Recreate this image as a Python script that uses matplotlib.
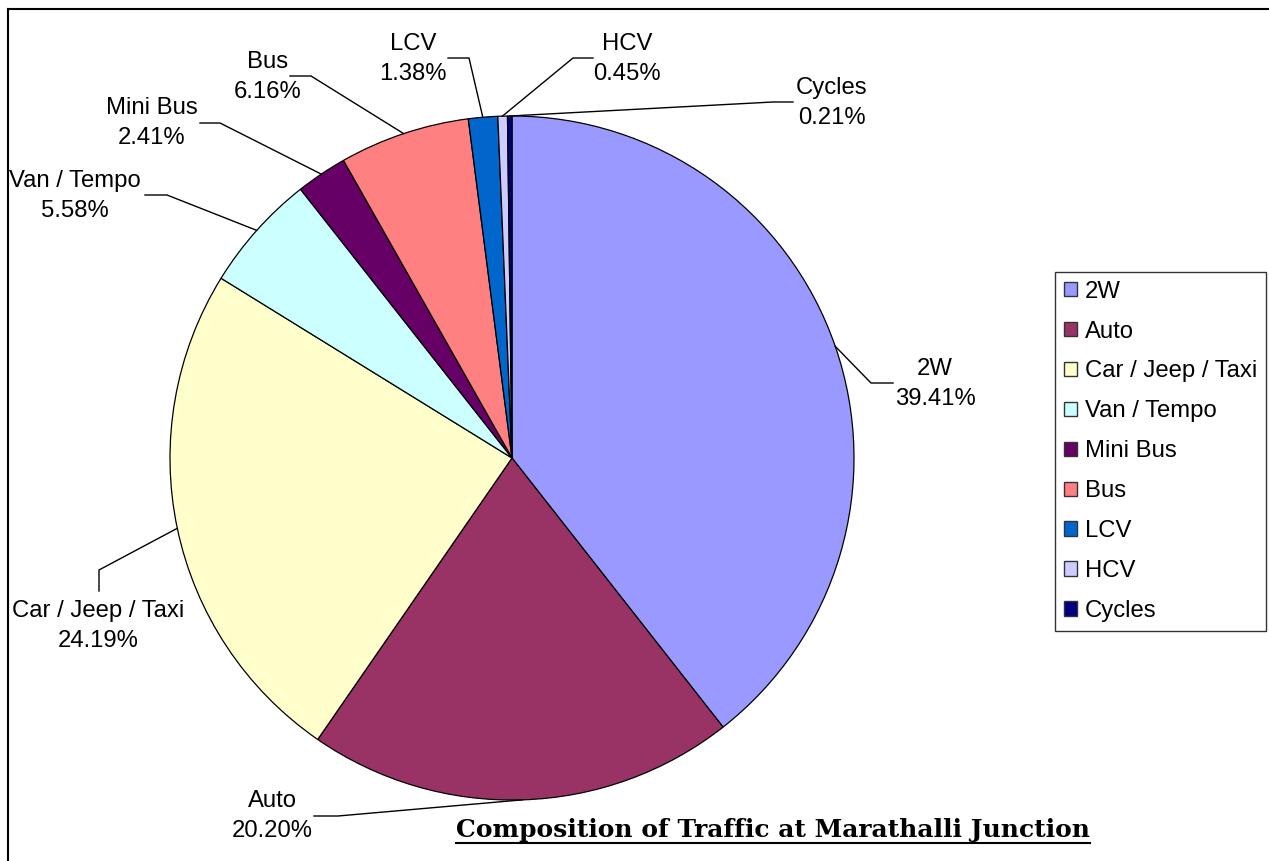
import numpy as np
import matplotlib
matplotlib.use("Agg")
import matplotlib.pyplot as plt
from matplotlib.patches import Patch
from matplotlib.lines import Line2D

# data
categories = ["2W", "Auto", "Car / Jeep / Taxi", "Van / Tempo", "Mini Bus",
              "Bus", "LCV", "HCV", "Cycles"]
shares = [39.41, 20.20, 24.19, 5.58, 2.41, 6.16, 1.38, 0.45, 0.21]
colors = ["#9999FF", "#993366", "#FFFFCC", "#CCFFFF", "#660066",
          "#FF8080", "#0066CC", "#CCCCFF", "#000080"]
title = "Composition of Traffic at Marathalli Junction"

W, H = 1269, 861
# label layout in pixels (x, y from top): text block centre and leader elbow/end
label_pos = [(935, 384), (272, 816), (98, 626), (75, 196), (152, 123),
             (268, 77), (413, 59), (627, 59), (832, 103)]
elbow = [(871, 383), (338, 816), (99, 570), (167, 195), (220, 123),
         (311, 76), (469, 58), (573, 58), (773, 102)]
line_end = [(893, 383), (314, 816), (99, 591), (145, 195), (200, 123),
            (290, 76), (448, 58), (593, 58), (793, 102)]

cx, cy, r = 512, 458, 342

fig = plt.figure(figsize=(W / 100, H / 100), dpi=100)
ax = fig.add_axes([0, 0, 1, 1])
ax.axis("off")

font = "Liberation Sans"
fs = 17.2

wedges, _ = ax.pie(shares, colors=colors, startangle=90, counterclock=False,
                   center=(cx, H - cy), radius=r,
                   wedgeprops=dict(edgecolor="black", linewidth=0.9))
ax.set_xlim(0, W)
ax.set_ylim(0, H)
ax.set_aspect("equal")

# labels with leader lines
cum = 0
for i, (name, val) in enumerate(zip(categories, shares)):
    mid = 90 - 360 * (cum + val / 2) / 100
    cum += val
    ax_x = cx + r * np.cos(np.radians(mid))
    ax_y = (H - cy) + r * np.sin(np.radians(mid))
    xs = [ax_x, elbow[i][0], line_end[i][0]]
    ys = [ax_y, H - elbow[i][1], H - line_end[i][1]]
    ax.plot(xs, ys, color="black", linewidth=1.0)
    tx, ty = label_pos[i]
    ax.text(tx, H - ty, f"{name}\n{val:.2f}%", ha="center", va="center",
            fontsize=fs, family=font, linespacing=1.45)

# legend
handles = [Patch(facecolor=c, edgecolor="#333333", linewidth=1.0) for c in colors]
leg = fig.legend(handles, categories, loc="upper left",
                 bbox_to_anchor=(1055 / W, 1 - 272 / H), borderaxespad=0,
                 prop={"family": font, "size": fs}, handlelength=0.55,
                 handleheight=0.55, handletextpad=0.35, labelspacing=0.75,
                 borderpad=0.36, fancybox=False, frameon=True)
leg.get_frame().set_edgecolor("black")
leg.get_frame().set_linewidth(1.0)

# title (underlined)
t = ax.text(773, H - 830, title, ha="center", va="center", fontsize=18,
            family="DejaVu Serif", weight="bold")
fig.canvas.draw()
bb = t.get_window_extent()
fig.add_artist(Line2D([bb.x0 / W, bb.x1 / W], [(bb.y0 - 1) / H, (bb.y0 - 1) / H],
                      color="black", linewidth=1.5))

# outer border (top and left)
fig.add_artist(Line2D([8 / W, 1], [1 - 9 / H, 1 - 9 / H], color="black", linewidth=1.5))
fig.add_artist(Line2D([8 / W, 8 / W], [0, 1 - 9 / H], color="black", linewidth=1.5))

fig.savefig("out.png", dpi=100)
